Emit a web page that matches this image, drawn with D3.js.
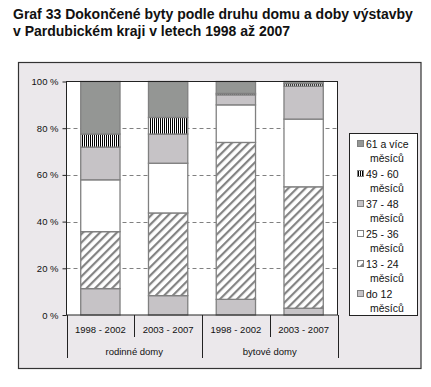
<!DOCTYPE html>
<html>
<head>
<meta charset="utf-8">
<script src="https://cdn.jsdelivr.net/npm/d3@7"></script>
<style>
  body { margin: 0; background: #fff; }
  svg text { font-family: "Liberation Sans", Arial, sans-serif; }
</style>
</head>
<body>
<div id="chart"></div>
<script>
const width = 431, height = 387;

const titleLines = ["Graf 33 Dokončené byty podle druhu domu a doby výstavby",
                    "v Pardubickém kraji v letech 1998 až 2007"];
const periods = ["1998 - 2002", "2003 - 2007", "1998 - 2002", "2003 - 2007"];
const groups = ["rodinné domy", "bytové domy"];
const seriesNames = ["do 12 měsíců", "13 - 24 měsíců", "25 - 36 měsíců",
                     "37 - 48 měsíců", "49 - 60 měsíců", "61 a více měsíců"];
// share in % per bar (stack order bottom to top)
const do12   = [11.3, 8.3, 6.7, 2.9];
const m13_24 = [24.4, 35.4, 67.2, 52.0];
const m25_36 = [22.2, 21.3, 16.1, 29.0];
const m37_48 = [14.0, 12.5, 4.3, 14.1];
const m49_60 = [5.6, 7.1, 0.6, 1.1];
const m61    = [22.5, 15.4, 5.1, 0.9];
const yTicks = [0, 20, 40, 60, 80, 100];

const seriesValues = [do12, m13_24, m25_36, m37_48, m49_60, m61];
const fills = ["#c6c3c6", "url(#hatch)", "#ffffff", "#c6c3c6", "url(#vstripe)", "#949694"];

const rows = periods.map((p, i) => {
  const r = { idx: i };
  seriesNames.forEach((s, k) => r[s] = seriesValues[k][i]);
  return r;
});

const svg = d3.select("#chart").append("svg")
    .attr("width", width)
    .attr("height", height);

const defs = svg.append("defs");
const hatch = defs.append("pattern")
    .attr("id", "hatch")
    .attr("patternUnits", "userSpaceOnUse")
    .attr("width", 6).attr("height", 6)
    .attr("patternTransform", "rotate(45)");
hatch.append("rect").attr("width", 6).attr("height", 6).attr("fill", "#fff");
hatch.append("rect").attr("width", 2.2).attr("height", 6).attr("fill", "#848484");

const vstripe = defs.append("pattern")
    .attr("id", "vstripe")
    .attr("patternUnits", "userSpaceOnUse")
    .attr("width", 2).attr("height", 2);
vstripe.append("rect").attr("width", 2).attr("height", 2).attr("fill", "#fff");
vstripe.append("rect").attr("width", 1).attr("height", 2).attr("fill", "#000");

// title
svg.append("g").selectAll("text")
  .data(titleLines).enter()
  .append("text")
    .attr("x", 13)
    .attr("y", (d, i) => 19 + i * 17)
    .style("font-family", "'Liberation Sans Narrow', 'Liberation Sans', sans-serif")
    .style("font-weight", "bold")
    .style("font-size", "14px")
    .attr("fill", "#111")
    .text(d => d);

// outer frame
svg.append("rect")
    .attr("x", 18.5).attr("y", 62.5)
    .attr("width", 402.5).attr("height", 306)
    .attr("fill", "#ebe8eb")
    .attr("stroke", "#333")
    .attr("stroke-width", 1.2);

const plot = { left: 66.5, right: 337.5, top: 81.5, bottom: 315 };

const x = d3.scaleBand()
    .domain(d3.range(periods.length))
    .range([plot.left, plot.right])
    .paddingInner(0.42)
    .paddingOuter(0.21);

const y = d3.scaleLinear()
    .domain([0, 100])
    .range([plot.bottom, plot.top]);

svg.append("rect")
    .attr("x", plot.left).attr("y", plot.top)
    .attr("width", plot.right - plot.left).attr("height", plot.bottom - plot.top)
    .attr("fill", "#fff");

// grid
svg.append("g").selectAll("line")
  .data(yTicks.filter(t => t > 0 && t < 100)).enter()
  .append("line")
    .attr("x1", plot.left).attr("x2", plot.right)
    .attr("y1", d => Math.round(y(d)) + 0.5).attr("y2", d => Math.round(y(d)) + 0.5)
    .attr("stroke", "#808080")
    .attr("stroke-dasharray", "4,3");

const stack = d3.stack().keys(seriesNames);
const layers = stack(rows);

svg.append("g").selectAll("g")
  .data(layers).enter()
  .append("g")
    .attr("fill", (d, i) => fills[i])
  .selectAll("rect")
  .data(d => d).enter()
  .append("rect")
    .attr("x", d => x(d.data.idx))
    .attr("y", d => y(d[1]))
    .attr("width", x.bandwidth())
    .attr("height", d => y(d[0]) - y(d[1]))
    .attr("stroke", "#808080")
    .attr("stroke-width", 1.3);

// plot border
svg.append("rect")
    .attr("x", plot.left).attr("y", plot.top)
    .attr("width", plot.right - plot.left).attr("height", plot.bottom - plot.top)
    .attr("fill", "none")
    .attr("stroke", "#222")
    .attr("stroke-width", 1);

// y axis
const yAxis = svg.append("g")
    .attr("transform", "translate(" + plot.left + ",0)")
    .call(d3.axisLeft(y).tickValues(yTicks).tickSize(4).tickFormat(d => d + " %"));
yAxis.select(".domain").remove();
yAxis.selectAll("line").attr("stroke", "#222");
yAxis.selectAll("text")
    .attr("x", -8)
    .style("font-size", "9.5px")
    .style("font-family", "'Liberation Sans', sans-serif")
    .attr("fill", "#111");

// category axis
const cat = svg.append("g");
const step = x.step();
periods.forEach((p, i) => {
  cat.append("text")
    .attr("x", x(i) + x.bandwidth() / 2)
    .attr("y", 333)
    .attr("text-anchor", "middle")
    .style("font-size", "9.5px")
    .attr("fill", "#111")
    .text(p);
});
groups.forEach((g, i) => {
  cat.append("text")
    .attr("x", plot.left + step * (2 * i + 1))
    .attr("y", 355)
    .attr("text-anchor", "middle")
    .style("font-size", "9.5px")
    .attr("fill", "#111")
    .text(g);
});
d3.range(periods.length + 1).forEach(i => {
  const long = i % 2 === 0;
  cat.append("line")
    .attr("x1", Math.round(plot.left + step * i) + 0.5)
    .attr("x2", Math.round(plot.left + step * i) + 0.5)
    .attr("y1", plot.bottom)
    .attr("y2", long ? 358 : 337)
    .attr("stroke", "#222");
});

// legend
const legend = svg.append("g");
legend.append("rect")
    .attr("x", 349.5).attr("y", 133.5)
    .attr("width", 68).attr("height", 182)
    .attr("fill", "#fff")
    .attr("stroke", "#222");

const legendItems = seriesNames.map((s, i) => ({ name: s, fill: fills[i] })).reverse();
const li = legend.selectAll("g.item")
  .data(legendItems).enter()
  .append("g")
    .attr("class", "item")
    .attr("transform", (d, i) => "translate(0," + (141 + i * 30) + ")");
li.append("rect")
    .attr("x", 357.5).attr("y", -0.5)
    .attr("width", 6).attr("height", 6)
    .attr("fill", d => d.fill)
    .attr("stroke", "#808080");
li.append("text")
    .attr("x", 366)
    .attr("y", 7)
    .style("font-size", "10.5px")
    .attr("fill", "#111")
    .text(d => d.name.replace(" měsíců", ""));
li.append("text")
    .attr("x", 370)
    .attr("y", 21)
    .style("font-size", "10.5px")
    .attr("fill", "#111")
    .text("měsíců");
</script>
</body>
</html>
